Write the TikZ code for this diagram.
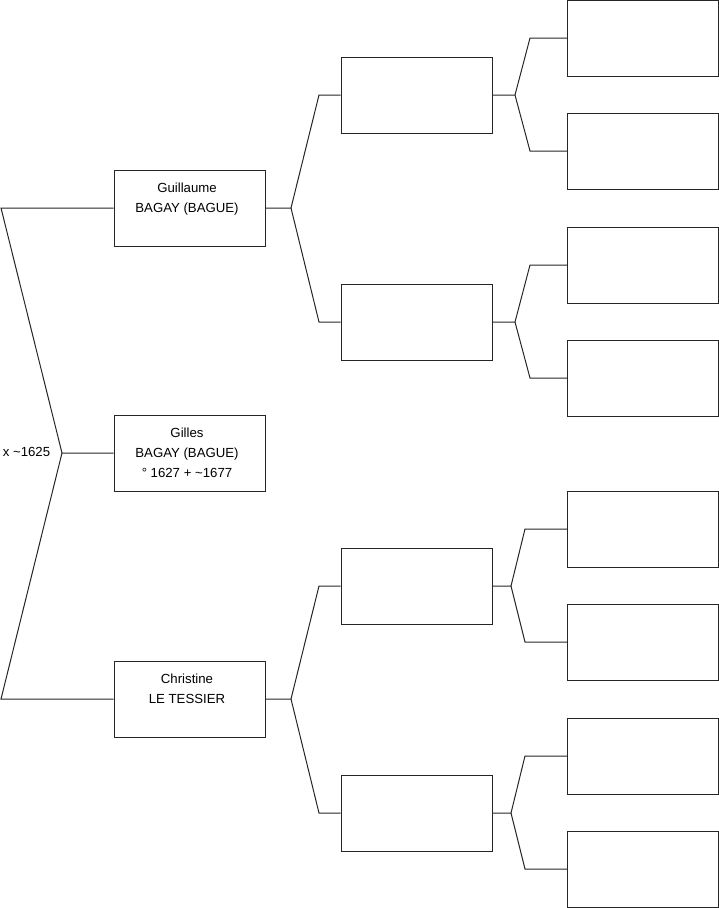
\documentclass[tikz,border=0pt]{standalone}
\usepackage{fontspec}
\setmainfont{Liberation Sans}
\begin{document}
\begin{tikzpicture}[x=1pt,y=-1pt,
  box/.style={draw=black!85,line width=1pt,rectangle,minimum width=151pt,minimum height=76pt,inner sep=0pt},
  lbl/.style={inner sep=0pt,anchor=base,font=\fontsize{13.2}{20}\selectfont},
  conn/.style={draw=black!85,line width=1pt}]
\useasboundingbox (0,0) rectangle (719,908);
% generation 1
\node[box] (guil) at (189.5,208) {};
\node[box] (gill) at (189.5,453) {};
\node[box] (chri) at (189.5,699) {};
\node[lbl] (tguil) at (187,192) {\begin{tabular}[t]{@{}c@{}}Guillaume\\BAGAY (BAGUE)\end{tabular}};
\node[lbl] (tgill) at (187,437) {\begin{tabular}[t]{@{}c@{}}Gilles\\BAGAY (BAGUE)\\° 1627 + \textasciitilde1677\end{tabular}};
\node[lbl] (tchri) at (187,683) {\begin{tabular}[t]{@{}c@{}}Christine\\LE TESSIER\end{tabular}};
\node[lbl] (marr) at (26.5,456) {x \textasciitilde1625};
% generation 2
\node[box] (p1) at (416.5,95) {};
\node[box] (p2) at (416.5,322) {};
\node[box] (p3) at (416.5,586) {};
\node[box] (p4) at (416.5,813) {};
% generation 3
\node[box] (q1) at (643,38) {};
\node[box] (q2) at (643,151) {};
\node[box] (q3) at (643,265) {};
\node[box] (q4) at (643,378) {};
\node[box] (q5) at (643,529) {};
\node[box] (q6) at (643,642) {};
\node[box] (q7) at (643,756) {};
\node[box] (q8) at (643,869) {};
% root fork
\coordinate (r) at (62,453);
\coordinate (rt) at (1,208);
\coordinate (rb) at (1,699);
\draw[conn] (gill.west) -- (r) -- (rt) -- (guil.west);
\draw[conn] (r) -- (rb) -- (chri.west);
% generation 1 -> 2
\coordinate (f1) at (291,208);
\coordinate (e1) at (319,95);
\coordinate (e2) at (319,322);
\draw[conn] (guil.east) -- (f1) -- (e1) -- (p1.west);
\draw[conn] (f1) -- (e2) -- (p2.west);
\coordinate (f2) at (291,699);
\coordinate (e3) at (319,586);
\coordinate (e4) at (319,813);
\draw[conn] (chri.east) -- (f2) -- (e3) -- (p3.west);
\draw[conn] (f2) -- (e4) -- (p4.west);
% generation 2 -> 3
\coordinate (g1) at (515,95);
\coordinate (h1) at (530,38);
\coordinate (h2) at (530,151);
\draw[conn] (p1.east) -- (g1) -- (h1) -- (q1.west);
\draw[conn] (g1) -- (h2) -- (q2.west);
\coordinate (g2) at (515,322);
\coordinate (h3) at (530,265);
\coordinate (h4) at (530,378);
\draw[conn] (p2.east) -- (g2) -- (h3) -- (q3.west);
\draw[conn] (g2) -- (h4) -- (q4.west);
\coordinate (g3) at (511,586);
\coordinate (h5) at (525,529);
\coordinate (h6) at (525,642);
\draw[conn] (p3.east) -- (g3) -- (h5) -- (q5.west);
\draw[conn] (g3) -- (h6) -- (q6.west);
\coordinate (g4) at (511,813);
\coordinate (h7) at (525,756);
\coordinate (h8) at (525,869);
\draw[conn] (p4.east) -- (g4) -- (h7) -- (q7.west);
\draw[conn] (g4) -- (h8) -- (q8.west);
\end{tikzpicture}
\end{document}
